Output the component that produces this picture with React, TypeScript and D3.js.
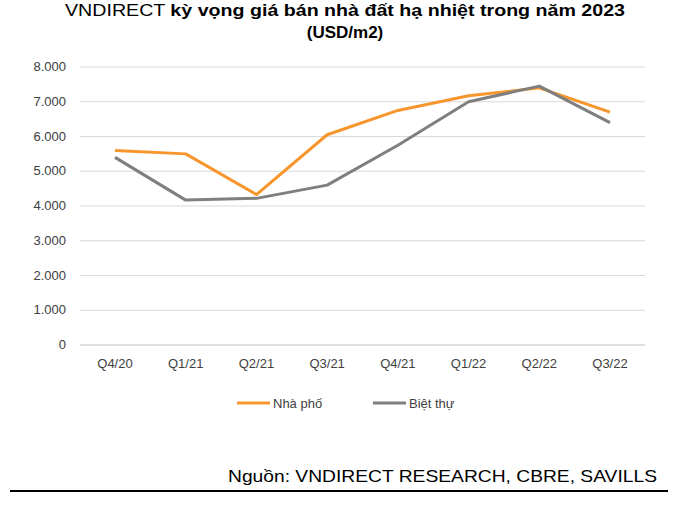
import React from 'react';
import * as d3 from 'd3';

const categories = ['Q4/20', 'Q1/21', 'Q2/21', 'Q3/21', 'Q4/21', 'Q1/22', 'Q2/22', 'Q3/22'];
const nhaPho = [5600, 5500, 4330, 6050, 6750, 7170, 7400, 6700];
const bietThu = [5400, 4170, 4220, 4600, 5750, 7000, 7450, 6400];
const yTicks = [0, 1000, 2000, 3000, 4000, 5000, 6000, 7000, 8000];
const series = [
  { name: 'Nhà phố', values: nhaPho, color: '#F7962C' },
  { name: 'Biệt thự', values: bietThu, color: '#7F7F7F' },
];

const W = 700, H = 508;
const font = 'Arial, "Liberation Sans", sans-serif';

export default function App() {
  const x = d3.scalePoint<string>().domain(categories).range([115, 610]);
  const y = d3.scaleLinear().domain([0, 8000]).range([345, 67]);
  const line = d3.line<number>().x((_, i) => x(categories[i])!).y(d => y(d));
  const fmt = (v: number) => d3.format(',')(v).replace(/,/g, '.');

  return (
    <svg width={W} height={H} style={{ position: 'absolute', left: 0, top: 0, background: '#fff' }} fontFamily={font}>
      <text x={65} y={16} fontSize={17} fill="#000" textLength={560} lengthAdjust="spacingAndGlyphs">
        VNDIRECT <tspan fontWeight="bold">kỳ vọng giá bán nhà đất hạ nhiệt trong năm 2023</tspan>
      </text>
      <text x={345} y={38} textAnchor="middle" fontSize={17} fontWeight="bold" fill="#000">(USD/m2)</text>
      {yTicks.map(t => (
        <g key={t}>
          <line x1={80} x2={645} y1={y(t)} y2={y(t)} stroke={t === 0 ? '#bfbfbf' : '#d9d9d9'} strokeWidth={1} />
          <text x={66} y={y(t) + 4} textAnchor="end" fontSize={13} fill="#404040">{fmt(t)}</text>
        </g>
      ))}
      {categories.map(c => (
        <text key={c} x={x(c)} y={368} textAnchor="middle" fontSize={13} fill="#404040">{c}</text>
      ))}
      {series.map(s => (
        <path key={s.name} d={line(s.values)!} fill="none" stroke={s.color} strokeWidth={3} strokeLinejoin="round" />
      ))}
      {series.map((s, i) => {
        const lx = 237 + i * 136;
        return (
          <g key={s.name}>
            <line x1={lx} x2={lx + 33} y1={403} y2={403} stroke={s.color} strokeWidth={3} />
            <text x={lx + 36} y={408} fontSize={13} fill="#404040">{s.name}</text>
          </g>
        );
      })}
      <text x={228} y={482} fontSize={17} fill="#000" textLength={429} lengthAdjust="spacingAndGlyphs">Nguồn: VNDIRECT RESEARCH, CBRE, SAVILLS</text>
      <line x1={10} x2={668} y1={491} y2={491} stroke="#000" strokeWidth={2} />
    </svg>
  );
}
